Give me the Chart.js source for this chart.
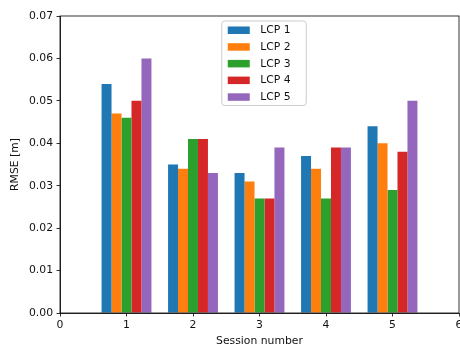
<!DOCTYPE html>
<html>
<head>
<meta charset="utf-8">
<script src="https://cdn.jsdelivr.net/npm/chart.js@4"></script>
<style>
html,body{margin:0;padding:0;background:#fff;overflow:hidden;}
#wrap{width:460px;height:349px;position:relative;}
</style>
</head>
<body>
<div id="wrap"><canvas id="c" width="460" height="349"></canvas></div>
<script>
const sessions = [1, 2, 3, 4, 5];
const seriesLabels = ['LCP 1', 'LCP 2', 'LCP 3', 'LCP 4', 'LCP 5'];
const lcp1 = [0.054, 0.035, 0.033, 0.037, 0.044];
const lcp2 = [0.047, 0.034, 0.031, 0.034, 0.040];
const lcp3 = [0.046, 0.041, 0.027, 0.027, 0.029];
const lcp4 = [0.050, 0.041, 0.027, 0.039, 0.038];
const lcp5 = [0.060, 0.033, 0.039, 0.039, 0.050];
const xTicks = [0, 1, 2, 3, 4, 5, 6];
const yTicks = [0, 0.01, 0.02, 0.03, 0.04, 0.05, 0.06, 0.07];
const colors = ['#1f77b4', '#ff7f0e', '#2ca02c', '#d62728', '#9467bd'];

const allSeries = [lcp1, lcp2, lcp3, lcp4, lcp5];
const FONT = 'DejaVu Sans';
const FS = 10.8;
const TXT = '#111111';

const datasets = allSeries.map((vals, i) => ({
  label: seriesLabels[i],
  data: sessions.map((s, j) => ({x: s, y: vals[j]})),
  backgroundColor: colors[i],
  borderWidth: 0,
  categoryPercentage: 0.75,
  barPercentage: 1.0
}));

const framePlugin = {
  id: 'frame',
  afterDatasetsDraw(chart) {
    const {ctx, chartArea: a} = chart;
    ctx.save();
    ctx.strokeStyle = '#000';
    ctx.lineWidth = 0.8;
    ctx.strokeRect(a.left, a.top, a.right - a.left, a.bottom - a.top);
    ctx.restore();
  }
};

const legendPlugin = {
  id: 'mplLegend',
  afterDraw(chart) {
    const {ctx, chartArea: a} = chart;
    const cx = (a.left + a.right) / 2 + 4.5;
    const boxW = 84.5, rowH = 16.7, boxH = 84.5;
    const x0 = cx - boxW / 2, y0 = a.top + 5;
    ctx.save();
    const r = 3;
    ctx.beginPath();
    ctx.moveTo(x0 + r, y0);
    ctx.lineTo(x0 + boxW - r, y0);
    ctx.quadraticCurveTo(x0 + boxW, y0, x0 + boxW, y0 + r);
    ctx.lineTo(x0 + boxW, y0 + boxH - r);
    ctx.quadraticCurveTo(x0 + boxW, y0 + boxH, x0 + boxW - r, y0 + boxH);
    ctx.lineTo(x0 + r, y0 + boxH);
    ctx.quadraticCurveTo(x0, y0 + boxH, x0, y0 + boxH - r);
    ctx.lineTo(x0, y0 + r);
    ctx.quadraticCurveTo(x0, y0, x0 + r, y0);
    ctx.closePath();
    ctx.fillStyle = 'rgba(255,255,255,0.8)';
    ctx.fill();
    ctx.strokeStyle = '#cccccc';
    ctx.lineWidth = 1;
    ctx.stroke();
    ctx.font = FS + 'px "' + FONT + '"';
    ctx.textBaseline = 'middle';
    ctx.textAlign = 'left';
    chart.data.datasets.forEach((ds, i) => {
      const yc = y0 + 9 + i * rowH;
      ctx.fillStyle = ds.backgroundColor;
      ctx.fillRect(x0 + 6, yc - 3.5, 22, 7.5);
      ctx.fillStyle = TXT;
      ctx.fillText(ds.label, x0 + 38.5, yc + 0.5);
    });
    ctx.restore();
  }
};

new Chart(document.getElementById('c'), {
  type: 'bar',
  data: {datasets},
  options: {
    responsive: false,
    animation: false,
    devicePixelRatio: 1,
    layout: {padding: {left: 0, right: 1, top: 16, bottom: 0}},
    plugins: {legend: {display: false}, tooltip: {enabled: false}},
    scales: {
      x: {
        type: 'linear',
        min: 0, max: 6,
        offset: false,
        afterBuildTicks(scale) { scale.ticks = xTicks.map(v => ({value: v})); },
        afterFit(scale) { scale.paddingLeft = 0; scale.paddingRight = 0; scale.height = 36; },
        grid: {offset: false, drawOnChartArea: false, drawTicks: true, tickLength: 3.5, tickColor: '#000', tickWidth: 0.8},
        border: {display: true, color: '#000', width: 0.8},
        ticks: {
          color: TXT, padding: 2, maxRotation: 0, autoSkip: false,
          font: {family: FONT, size: FS},
          callback: v => String(v)
        },
        title: {display: true, text: 'Session number', color: TXT, font: {family: FONT, size: FS}, padding: {top: 0, bottom: 1.5}}
      },
      y: {
        type: 'linear',
        min: 0, max: 0.07,
        afterBuildTicks(scale) { scale.ticks = yTicks.map(v => ({value: v})); },
        afterFit(scale) { scale.width = 60; scale.paddingTop = 0; scale.paddingBottom = 0; },
        grid: {offset: false, drawOnChartArea: false, drawTicks: true, tickLength: 3.5, tickColor: '#000', tickWidth: 0.8},
        border: {display: true, color: '#000', width: 0.8},
        ticks: {
          color: TXT, padding: 3.5, autoSkip: false,
          font: {family: FONT, size: FS},
          callback: v => Number(v).toFixed(2)
        },
        title: {display: true, text: 'RMSE [m]', color: TXT, font: {family: FONT, size: FS}, padding: {top: 9, bottom: 0}}
      }
    }
  },
  plugins: [framePlugin, legendPlugin]
});
</script>
</body>
</html>
